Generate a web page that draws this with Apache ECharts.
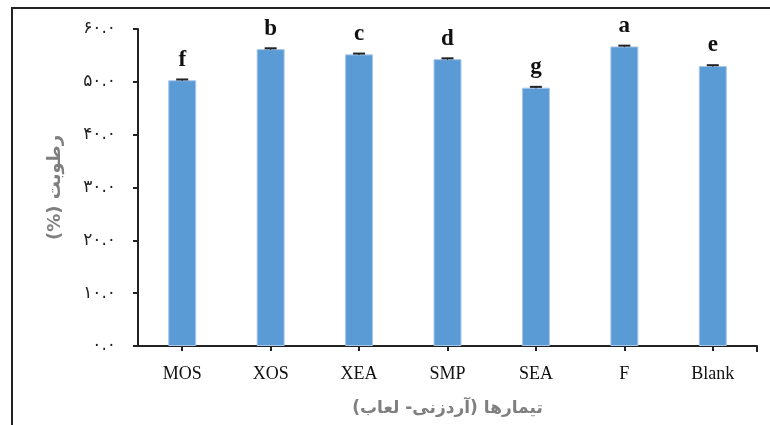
<!DOCTYPE html>
<html>
<head>
<meta charset="utf-8">
<script src="https://cdn.jsdelivr.net/npm/echarts@6/dist/echarts.min.js"></script>
<style>
html,body{margin:0;padding:0;background:#fff;}
#c{width:770px;height:425px;}
</style>
</head>
<body>
<div id="c"></div>
<script>
const categories = ['MOS', 'XOS', 'XEA', 'SMP', 'SEA', 'F', 'Blank'];
const moisture = [50.3, 56.2, 55.2, 54.3, 48.9, 56.7, 53.0];
const errors = [0.15, 0.15, 0.15, 0.15, 0.15, 0.15, 0.15];
const letters = ['f', 'b', 'c', 'd', 'g', 'a', 'e'];
const yTickValues = [0, 10, 20, 30, 40, 50, 60];
const yTickLabels = ['۰.۰', '۱۰.۰', '۲۰.۰', '۳۰.۰', '۴۰.۰', '۵۰.۰', '۶۰.۰'];
const xTitle = 'تیمارها (آردزنی- لعاب)';
const yTitle = 'رطوبت (%)';

const rtl = s => '\u202B' + s + '\u202C';
const chart = echarts.init(document.getElementById('c'));
const gridL = 138, gridR = 13, gridT = 29, gridB = 79;

chart.setOption({
  animation: false,
  grid: { left: gridL, right: gridR, top: gridT, bottom: gridB },
  xAxis: {
    type: 'category',
    data: categories,
    boundaryGap: true,
    axisLine: { lineStyle: { color: '#222', width: 2 } },
    axisTick: { show: true, alignWithLabel: true, length: 5, lineStyle: { color: '#222', width: 2 } },
    axisLabel: { color: '#111', fontFamily: 'Liberation Serif', fontSize: 18, margin: 19 },
    name: rtl(xTitle),
    nameLocation: 'middle',
    nameGap: 54,
    nameTextStyle: { color: '#7f7f7f', fontFamily: 'DejaVu Sans', fontWeight: 'bold', fontSize: 17 }
  },
  yAxis: {
    type: 'value',
    min: 0, max: 60, interval: 10,
    axisLine: { show: true, lineStyle: { color: '#222', width: 2 } },
    axisTick: { show: true, length: 5, lineStyle: { color: '#222', width: 2 } },
    splitLine: { show: false },
    axisLabel: {
      color: '#222', fontFamily: 'DejaVu Sans', fontSize: 17, margin: 22,
      formatter: v => yTickLabels[yTickValues.indexOf(v)]
    },
    name: rtl(yTitle),
    nameLocation: 'middle',
    nameGap: 74,
    nameTextStyle: { color: '#7f7f7f', fontFamily: 'DejaVu Sans', fontWeight: 'bold', fontSize: 18 }
  },
  series: [
    {
      type: 'bar',
      data: moisture,
      barWidth: 28,
      itemStyle: { color: '#5b9bd5', borderColor: '#a8c9ec', borderWidth: 1 },
      label: {
        show: true, position: 'top', distance: 9,
        formatter: p => letters[p.dataIndex],
        fontFamily: 'Liberation Serif', fontWeight: 'bold', fontSize: 23, color: '#111'
      }
    },
    {
      type: 'custom',
      data: moisture.map((v, i) => [i, v, errors[i]]),
      z: 10,
      renderItem: (params, api) => {
        const i = api.value(0), v = api.value(1), e = api.value(2);
        const top = api.coord([i, v + e]);
        const bot = api.coord([i, v - e]);
        const hw = 6;
        return {
          type: 'group',
          children: [
            { type: 'line', shape: { x1: top[0], y1: top[1], x2: bot[0], y2: bot[1] }, style: { stroke: '#222', lineWidth: 1 } },
            { type: 'line', shape: { x1: top[0] - hw, y1: top[1], x2: top[0] + hw, y2: top[1] }, style: { stroke: '#222', lineWidth: 2 } }
          ]
        };
      }
    }
  ],
  graphic: [
    { type: 'polyline', shape: { points: [[12, 425], [12, 8], [770, 8]] }, style: { stroke: '#222', lineWidth: 2, fill: null } },
    { type: 'line', shape: { x1: 770 - gridR, y1: 425 - gridB, x2: 770 - gridR, y2: 425 - gridB + 6 }, style: { stroke: '#222', lineWidth: 2 } }
  ]
});
</script>
</body>
</html>
